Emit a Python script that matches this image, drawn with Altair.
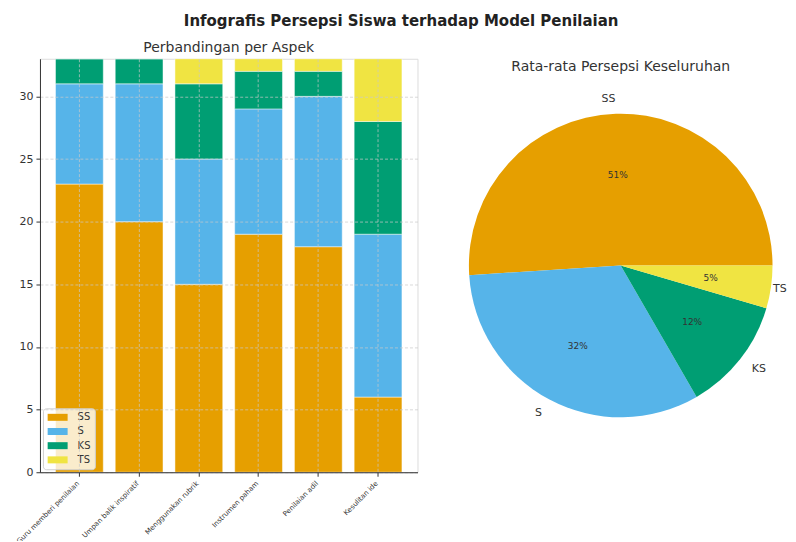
import math
import altair as alt
import pandas as pd

aspects = ["Guru memberi penilaian", "Umpan balik inspiratif", "Menggunakan rubrik",
           "Instrumen paham", "Penilaian adil", "Kesulitan ide"]
categories = ["SS", "S", "KS", "TS"]
ss = [23, 20, 15, 19, 18, 6]
s = [8, 11, 10, 10, 12, 13]
ks = [2, 2, 6, 3, 2, 9]
ts = [0, 0, 2, 1, 1, 5]
colors = ["#E69F00", "#56B4E9", "#009E73", "#F0E442"]
y_ticks = [0, 5, 10, 15, 20, 25, 30]

series = {"SS": ss, "S": s, "KS": ks, "TS": ts}
rows = []
for ci, c in enumerate(categories):
    for a, v in zip(aspects, series[c]):
        rows.append({"aspek": a, "cat": c, "value": v, "ord": ci})
bar_df = pd.DataFrame(rows)

totals = [sum(series[c]) for c in categories]
grand = sum(totals)
pie_df = pd.DataFrame({
    "cat": categories,
    "value": totals,
    "pct": [f"{round(100 * t / grand)}%" for t in totals],
    "ord": [3, 2, 1, 0],
})

FONT = "DejaVu Sans"
color_scale = alt.Scale(domain=categories, range=colors)

grid_kw = dict(grid=True, gridDash=[3, 2], gridColor="#c8c8c8", gridOpacity=0.7,
               domainColor="#333", tickColor="#333", tickSize=4, zindex=1)

bars = alt.Chart(bar_df).mark_bar(clip=True, stroke="white", strokeWidth=0.6, strokeOpacity=0.8).encode(
    x=alt.X("aspek:N", sort=aspects, title=None,
            scale=alt.Scale(paddingInner=0.2, paddingOuter=0.26),
            axis=alt.Axis(labelAngle=-45, labelAlign="right", labelBaseline="top",
                          labelFontSize=7, labelColor="#333", bandPosition=0.5,
                          labelPadding=3, labelOffset=-4, labelLimit=200, **grid_kw)),
    y=alt.Y("value:Q", stack="zero", title=None,
            scale=alt.Scale(domain=[0, 33], nice=False, zero=True),
            axis=alt.Axis(values=y_ticks, labelFontSize=11, labelColor="#333",
                          labelPadding=3, **grid_kw)),
    color=alt.Color("cat:N", scale=color_scale, sort=categories,
                    legend=alt.Legend(title=None, orient="bottom-left", offset=3,
                                      symbolType="M-2,-0.7H2V0.7H-2Z", symbolSize=100,
                                      symbolOffset=5.7, labelOffset=15,
                                      labelFontSize=10, labelColor="#333",
                                      fillColor="rgba(255,255,255,0.8)", strokeColor="#d0d0d0",
                                      padding=4, cornerRadius=3, rowPadding=4.2,
                                      symbolStrokeWidth=0)),
    order=alt.Order("ord:Q"),
).properties(
    width=378, height=414,
    title=alt.TitleParams("Perbandingan per Aspek", fontSize=14, font=FONT,
                          fontWeight="normal", color="#333", offset=3.5),
)

base = alt.Chart(pie_df).encode(
    theta=alt.Theta("value:Q", stack=True,
                    scale=alt.Scale(range=[math.pi / 2, math.pi / 2 + 2 * math.pi])),
    order=alt.Order("ord:Q"),
)
arcs = base.mark_arc(outerRadius=152).encode(
    color=alt.Color("cat:N", scale=color_scale, legend=None))
pct = base.mark_text(radius=91, fontSize=9, font=FONT, color="#333").encode(text="pct:N")
lab_r = base.mark_text(radius=167, fontSize=11, font=FONT, color="#333", align="right").encode(
    text=alt.condition(alt.FieldOneOfPredicate(field="cat", oneOf=["SS", "S"]),
                       alt.Text("cat:N"), alt.value("")))
lab_l = base.mark_text(radius=167, fontSize=11, font=FONT, color="#333", align="left").encode(
    text=alt.condition(alt.FieldOneOfPredicate(field="cat", oneOf=["KS"]),
                       alt.Text("cat:N"), alt.value("")))
lab_ts = base.mark_text(radius=168, fontSize=11, font=FONT, color="#333", align="right").encode(
    text=alt.condition(alt.FieldOneOfPredicate(field="cat", oneOf=["TS"]),
                       alt.Text("cat:N"), alt.value("")))

pie = alt.layer(arcs, pct, lab_r, lab_l, lab_ts).properties(
    width=335, height=414,
    title=alt.TitleParams("Rata-rata Persepsi Keseluruhan", fontSize=14, font=FONT,
                          fontWeight="normal", color="#333", offset=3.5, dy=19),
)

chart = alt.hconcat(bars, pie, spacing=35).resolve_scale(color="independent").resolve_legend(
    color="independent"
).properties(
    title=alt.TitleParams("Infografis Persepsi Siswa terhadap Model Penilaian", fontSize=15,
                          font=FONT, fontWeight="bold", color="#222", anchor="middle",
                          offset=11.5),
    padding={"left": 6, "top": 5.5, "right": 0, "bottom": -5},
).configure_view(stroke=None).configure(font=FONT)

chart.save("out.html", embed_options={"renderer": "svg", "actions": False})
